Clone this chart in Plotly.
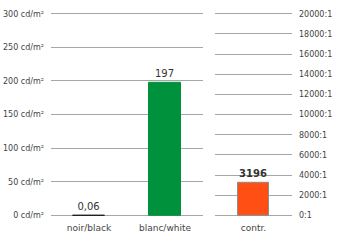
import plotly.graph_objects as go

lum_categories = ["noir/black", "blanc/white"]
lum_values = [0.06, 197]
lum_labels = ["0,06", "197"]
lum_ticks = [0, 50, 100, 150, 200, 250, 300]

con_categories = ["contr."]
con_values = [3196]
con_labels = ["3196"]
con_ticks = [0, 2000, 4000, 6000, 8000, 10000, 12000, 14000, 16000, 18000, 20000]

FONT = "DejaVu Sans"
GRID = "#a6a6a6"

fig = go.Figure()
fig.add_trace(go.Bar(
    x=lum_categories, y=lum_values, text=lum_labels, textposition="outside",
    textfont=dict(family=FONT, size=10, color="#333"),
    marker=dict(color=["#1a1a1a", "#00913c"], line=dict(color=["#1a1a1a", "#00913c"], width=1)),
    width=0.41, xaxis="x", yaxis="y", cliponaxis=False,
))
fig.add_trace(go.Bar(
    x=con_categories, y=con_values, text=["<b>%s</b>" % t for t in con_labels], textposition="outside",
    textfont=dict(family=FONT, size=10, color="#333"),
    marker=dict(color="#ff4f14", line=dict(color="#8c8c8c", width=1)),
    width=0.40, xaxis="x2", yaxis="y2", cliponaxis=False,
))

# 2px of padding around the 0..max span so edge gridlines are drawn
ydom = [21 / 241, 231 / 241]
lum_pad = 300 / 206 * 2
con_pad = 20000 / 206 * 2
fig.update_layout(
    width=337, height=241, margin=dict(l=0, r=0, t=0, b=0),
    paper_bgcolor="white", plot_bgcolor="white", showlegend=False,
    font=dict(family=FONT, size=8, color="#444"),
    xaxis=dict(domain=[51 / 337, 203 / 337], showgrid=False, showline=False, ticks="",
               tickfont=dict(size=9, color="#444"), ticklabelstandoff=4),
    yaxis=dict(domain=ydom, range=[-lum_pad, 300 + lum_pad], tickvals=lum_ticks,
               ticktext=["%d cd/m²" % v for v in lum_ticks], gridcolor=GRID, gridwidth=1,
               zeroline=True, zerolinecolor=GRID, zerolinewidth=1,
               showline=False, ticks="", tickfont=dict(size=8), ticklabelstandoff=6),
    xaxis2=dict(domain=[215 / 337, 292 / 337], anchor="y2", showgrid=False, showline=False, ticks="",
                tickfont=dict(size=9, color="#444"), ticklabelstandoff=4),
    yaxis2=dict(domain=ydom, anchor="x2", side="right", range=[-con_pad, 20000 + con_pad], tickvals=con_ticks,
                ticktext=["%d:1" % v for v in con_ticks], gridcolor=GRID, gridwidth=1,
                zeroline=True, zerolinecolor=GRID, zerolinewidth=1,
                showline=False, ticks="", tickfont=dict(size=8), ticklabelstandoff=6),
    bargap=0,
)
fig.write_html("out.html")
